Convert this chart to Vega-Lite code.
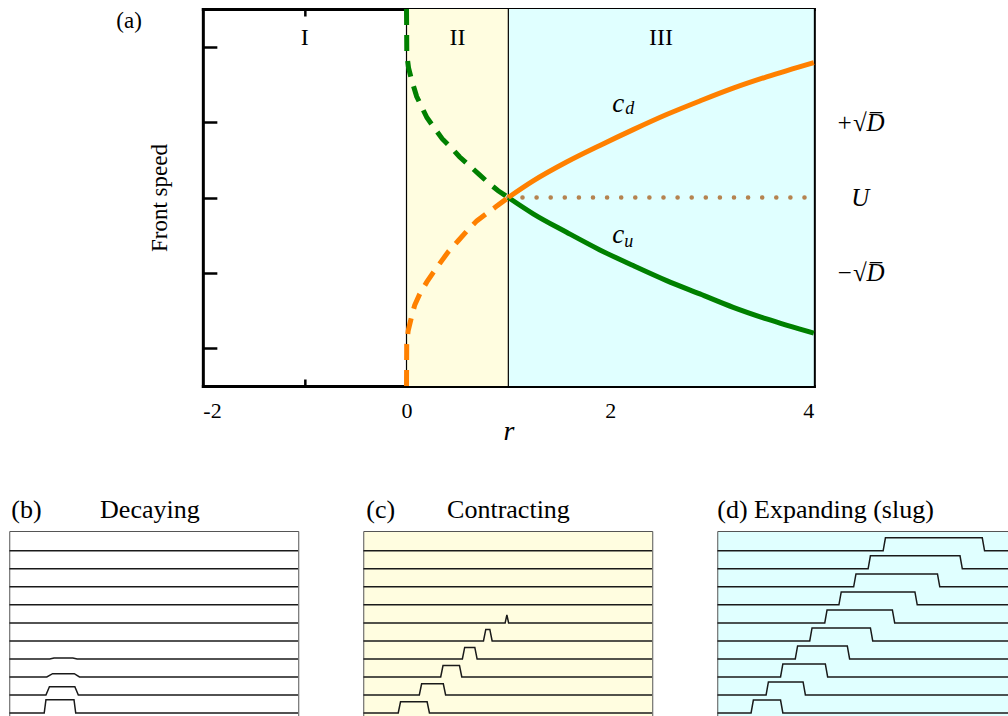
{
  "$schema": "https://vega.github.io/schema/vega-lite/v6.json",
  "background": "white",
  "padding": {"left": 8, "top": -1, "right": 0, "bottom": 0},
  "config": {
    "font": "Liberation Serif",
    "view": {"stroke": null},
    "axis": {"domainColor": "black", "domainWidth": 3, "domainCap": "square", "tickColor": "black", "tickWidth": 2.5, "labelFont": "Liberation Serif", "labelColor": "black", "titleFont": "Liberation Serif", "titleFontWeight": "normal", "titleColor": "black", "grid": false, "zindex": 1},
    "text": {"font": "Liberation Serif", "color": "black"},
    "title": {"font": "Liberation Serif", "fontWeight": "normal", "fontSize": 26, "color": "black", "anchor": "start", "frame": "group", "offset": 8}
  },
  "datasets": {
    "regions": [{"reg": "II", "r0": 0, "r1": 1}, {"reg": "III", "r0": 1, "r1": 4}],
    "bounds": [{"r": 0}, {"r": 1}],
    "uline": [{"r": 1, "v": 0}, {"r": 4, "v": 0}],
    "curves": [
      {"curve": "cu", "seg": "II", "r": 0, "v": 2.5},
      {"curve": "cu", "seg": "II", "r": 0.003, "v": 1.9},
      {"curve": "cu", "seg": "II", "r": 0.02, "v": 1.72},
      {"curve": "cu", "seg": "II", "r": 0.05, "v": 1.56},
      {"curve": "cu", "seg": "II", "r": 0.1, "v": 1.34},
      {"curve": "cu", "seg": "II", "r": 0.15, "v": 1.2},
      {"curve": "cu", "seg": "II", "r": 0.2, "v": 1.06},
      {"curve": "cu", "seg": "II", "r": 0.28, "v": 0.91},
      {"curve": "cu", "seg": "II", "r": 0.35, "v": 0.78},
      {"curve": "cu", "seg": "II", "r": 0.44, "v": 0.66},
      {"curve": "cu", "seg": "II", "r": 0.52, "v": 0.54},
      {"curve": "cu", "seg": "II", "r": 0.62, "v": 0.42},
      {"curve": "cu", "seg": "II", "r": 0.71, "v": 0.31},
      {"curve": "cu", "seg": "II", "r": 0.8, "v": 0.2},
      {"curve": "cu", "seg": "II", "r": 0.9, "v": 0.09},
      {"curve": "cu", "seg": "II", "r": 1.0, "v": 0},
      {"curve": "cd", "seg": "II", "r": 0, "v": -2.5},
      {"curve": "cd", "seg": "II", "r": 0.002, "v": -1.95},
      {"curve": "cd", "seg": "II", "r": 0.016, "v": -1.77},
      {"curve": "cd", "seg": "II", "r": 0.05, "v": -1.58},
      {"curve": "cd", "seg": "II", "r": 0.08, "v": -1.43},
      {"curve": "cd", "seg": "II", "r": 0.13, "v": -1.28},
      {"curve": "cd", "seg": "II", "r": 0.2, "v": -1.12},
      {"curve": "cd", "seg": "II", "r": 0.26, "v": -1.0},
      {"curve": "cd", "seg": "II", "r": 0.34, "v": -0.85},
      {"curve": "cd", "seg": "II", "r": 0.41, "v": -0.72},
      {"curve": "cd", "seg": "II", "r": 0.51, "v": -0.57},
      {"curve": "cd", "seg": "II", "r": 0.59, "v": -0.45},
      {"curve": "cd", "seg": "II", "r": 0.69, "v": -0.31},
      {"curve": "cd", "seg": "II", "r": 0.8, "v": -0.2},
      {"curve": "cd", "seg": "II", "r": 0.88, "v": -0.12},
      {"curve": "cd", "seg": "II", "r": 1.0, "v": 0},
      {"curve": "cu", "seg": "III", "r": 1.0, "v": 0},
      {"curve": "cu", "seg": "III", "r": 1.244, "v": -0.216},
      {"curve": "cu", "seg": "III", "r": 1.572, "v": -0.461},
      {"curve": "cu", "seg": "III", "r": 1.899, "v": -0.695},
      {"curve": "cu", "seg": "III", "r": 2.226, "v": -0.903},
      {"curve": "cu", "seg": "III", "r": 2.554, "v": -1.102},
      {"curve": "cu", "seg": "III", "r": 2.881, "v": -1.279},
      {"curve": "cu", "seg": "III", "r": 3.208, "v": -1.457},
      {"curve": "cu", "seg": "III", "r": 3.536, "v": -1.611},
      {"curve": "cu", "seg": "III", "r": 4.0, "v": -1.8},
      {"curve": "cd", "seg": "III", "r": 1.0, "v": 0},
      {"curve": "cd", "seg": "III", "r": 1.244, "v": 0.22},
      {"curve": "cd", "seg": "III", "r": 1.572, "v": 0.47},
      {"curve": "cd", "seg": "III", "r": 1.899, "v": 0.69},
      {"curve": "cd", "seg": "III", "r": 2.226, "v": 0.9},
      {"curve": "cd", "seg": "III", "r": 2.554, "v": 1.1},
      {"curve": "cd", "seg": "III", "r": 2.881, "v": 1.28},
      {"curve": "cd", "seg": "III", "r": 3.208, "v": 1.45},
      {"curve": "cd", "seg": "III", "r": 3.536, "v": 1.6},
      {"curve": "cd", "seg": "III", "r": 4.0, "v": 1.79}
    ],
    "regionLabels": [{"t": "I", "r": -1, "v": 2.12}, {"t": "II", "r": 0.5, "v": 2.12}, {"t": "III", "r": 2.5, "v": 2.12}],
    "cLabels": [{"t": "c", "r": 2.02, "v": 1.14}, {"t": "c", "r": 2.02, "v": -0.6}],
    "subLabels": [{"t": "d", "r": 2.148, "v": 1.11}, {"t": "u", "r": 2.138, "v": -0.654}],
    "panelTag": [{"t": "(a)", "r": -2.85, "v": 2.345}],
    "traces": [
      {"p": "b", "k": 0, "x": 0, "y": 0}, {"p": "b", "k": 0, "x": 0.121, "y": 0}, {"p": "b", "k": 0, "x": 0.127, "y": 0.74}, {"p": "b", "k": 0, "x": 0.224, "y": 0.74}, {"p": "b", "k": 0, "x": 0.23, "y": 0}, {"p": "b", "k": 0, "x": 1, "y": 0},
      {"p": "b", "k": 1, "x": 0, "y": 1}, {"p": "b", "k": 1, "x": 0.127, "y": 1}, {"p": "b", "k": 1, "x": 0.139, "y": 1.46}, {"p": "b", "k": 1, "x": 0.227, "y": 1.46}, {"p": "b", "k": 1, "x": 0.239, "y": 1}, {"p": "b", "k": 1, "x": 1, "y": 1},
      {"p": "b", "k": 2, "x": 0, "y": 2}, {"p": "b", "k": 2, "x": 0.13, "y": 2}, {"p": "b", "k": 2, "x": 0.15, "y": 2.18}, {"p": "b", "k": 2, "x": 0.225, "y": 2.18}, {"p": "b", "k": 2, "x": 0.243, "y": 2}, {"p": "b", "k": 2, "x": 1, "y": 2},
      {"p": "b", "k": 3, "x": 0, "y": 3}, {"p": "b", "k": 3, "x": 0.14, "y": 3}, {"p": "b", "k": 3, "x": 0.155, "y": 3.05}, {"p": "b", "k": 3, "x": 0.22, "y": 3.05}, {"p": "b", "k": 3, "x": 0.235, "y": 3}, {"p": "b", "k": 3, "x": 1, "y": 3},
      {"p": "b", "k": 4, "x": 0, "y": 4}, {"p": "b", "k": 4, "x": 1, "y": 4},
      {"p": "b", "k": 5, "x": 0, "y": 5}, {"p": "b", "k": 5, "x": 1, "y": 5},
      {"p": "b", "k": 6, "x": 0, "y": 6}, {"p": "b", "k": 6, "x": 1, "y": 6},
      {"p": "b", "k": 7, "x": 0, "y": 7}, {"p": "b", "k": 7, "x": 1, "y": 7},
      {"p": "b", "k": 8, "x": 0, "y": 8}, {"p": "b", "k": 8, "x": 1, "y": 8},
      {"p": "b", "k": 9, "x": 0, "y": 9}, {"p": "b", "k": 9, "x": 1, "y": 9},
      {"p": "c", "k": 0, "x": 0, "y": 0}, {"p": "c", "k": 0, "x": 0.121, "y": 0}, {"p": "c", "k": 0, "x": 0.129, "y": 0.62}, {"p": "c", "k": 0, "x": 0.221, "y": 0.62}, {"p": "c", "k": 0, "x": 0.229, "y": 0}, {"p": "c", "k": 0, "x": 1, "y": 0},
      {"p": "c", "k": 1, "x": 0, "y": 1}, {"p": "c", "k": 1, "x": 0.194, "y": 1}, {"p": "c", "k": 1, "x": 0.202, "y": 1.62}, {"p": "c", "k": 1, "x": 0.277, "y": 1.62}, {"p": "c", "k": 1, "x": 0.285, "y": 1}, {"p": "c", "k": 1, "x": 1, "y": 1},
      {"p": "c", "k": 2, "x": 0, "y": 2}, {"p": "c", "k": 2, "x": 0.268, "y": 2}, {"p": "c", "k": 2, "x": 0.276, "y": 2.63}, {"p": "c", "k": 2, "x": 0.333, "y": 2.63}, {"p": "c", "k": 2, "x": 0.341, "y": 2}, {"p": "c", "k": 2, "x": 1, "y": 2},
      {"p": "c", "k": 3, "x": 0, "y": 3}, {"p": "c", "k": 3, "x": 0.343, "y": 3}, {"p": "c", "k": 3, "x": 0.351, "y": 3.64}, {"p": "c", "k": 3, "x": 0.386, "y": 3.64}, {"p": "c", "k": 3, "x": 0.394, "y": 3}, {"p": "c", "k": 3, "x": 1, "y": 3},
      {"p": "c", "k": 4, "x": 0, "y": 4}, {"p": "c", "k": 4, "x": 0.416, "y": 4}, {"p": "c", "k": 4, "x": 0.424, "y": 4.64}, {"p": "c", "k": 4, "x": 0.438, "y": 4.64}, {"p": "c", "k": 4, "x": 0.446, "y": 4}, {"p": "c", "k": 4, "x": 1, "y": 4},
      {"p": "c", "k": 5, "x": 0, "y": 5}, {"p": "c", "k": 5, "x": 0.491, "y": 5}, {"p": "c", "k": 5, "x": 0.497, "y": 5.44}, {"p": "c", "k": 5, "x": 0.503, "y": 5}, {"p": "c", "k": 5, "x": 1, "y": 5},
      {"p": "c", "k": 6, "x": 0, "y": 6}, {"p": "c", "k": 6, "x": 1, "y": 6},
      {"p": "c", "k": 7, "x": 0, "y": 7}, {"p": "c", "k": 7, "x": 1, "y": 7},
      {"p": "c", "k": 8, "x": 0, "y": 8}, {"p": "c", "k": 8, "x": 1, "y": 8},
      {"p": "c", "k": 9, "x": 0, "y": 9}, {"p": "c", "k": 9, "x": 1, "y": 9},
      {"p": "d", "k": 0, "x": 0, "y": 0}, {"p": "d", "k": 0, "x": 0.117, "y": 0}, {"p": "d", "k": 0, "x": 0.125, "y": 0.72}, {"p": "d", "k": 0, "x": 0.219, "y": 0.72}, {"p": "d", "k": 0, "x": 0.227, "y": 0}, {"p": "d", "k": 0, "x": 1.3, "y": 0},
      {"p": "d", "k": 1, "x": 0, "y": 1}, {"p": "d", "k": 1, "x": 0.169, "y": 1}, {"p": "d", "k": 1, "x": 0.177, "y": 1.72}, {"p": "d", "k": 1, "x": 0.297, "y": 1.72}, {"p": "d", "k": 1, "x": 0.305, "y": 1}, {"p": "d", "k": 1, "x": 1.3, "y": 1},
      {"p": "d", "k": 2, "x": 0, "y": 2}, {"p": "d", "k": 2, "x": 0.219, "y": 2}, {"p": "d", "k": 2, "x": 0.227, "y": 2.72}, {"p": "d", "k": 2, "x": 0.374, "y": 2.72}, {"p": "d", "k": 2, "x": 0.382, "y": 2}, {"p": "d", "k": 2, "x": 1.3, "y": 2},
      {"p": "d", "k": 3, "x": 0, "y": 3}, {"p": "d", "k": 3, "x": 0.27, "y": 3}, {"p": "d", "k": 3, "x": 0.278, "y": 3.72}, {"p": "d", "k": 3, "x": 0.45, "y": 3.72}, {"p": "d", "k": 3, "x": 0.458, "y": 3}, {"p": "d", "k": 3, "x": 1.3, "y": 3},
      {"p": "d", "k": 4, "x": 0, "y": 4}, {"p": "d", "k": 4, "x": 0.32, "y": 4}, {"p": "d", "k": 4, "x": 0.328, "y": 4.72}, {"p": "d", "k": 4, "x": 0.53, "y": 4.72}, {"p": "d", "k": 4, "x": 0.538, "y": 4}, {"p": "d", "k": 4, "x": 1.3, "y": 4},
      {"p": "d", "k": 5, "x": 0, "y": 5}, {"p": "d", "k": 5, "x": 0.372, "y": 5}, {"p": "d", "k": 5, "x": 0.38, "y": 5.72}, {"p": "d", "k": 5, "x": 0.606, "y": 5.72}, {"p": "d", "k": 5, "x": 0.614, "y": 5}, {"p": "d", "k": 5, "x": 1.3, "y": 5},
      {"p": "d", "k": 6, "x": 0, "y": 6}, {"p": "d", "k": 6, "x": 0.421, "y": 6}, {"p": "d", "k": 6, "x": 0.429, "y": 6.72}, {"p": "d", "k": 6, "x": 0.684, "y": 6.72}, {"p": "d", "k": 6, "x": 0.692, "y": 6}, {"p": "d", "k": 6, "x": 1.3, "y": 6},
      {"p": "d", "k": 7, "x": 0, "y": 7}, {"p": "d", "k": 7, "x": 0.472, "y": 7}, {"p": "d", "k": 7, "x": 0.48, "y": 7.72}, {"p": "d", "k": 7, "x": 0.762, "y": 7.72}, {"p": "d", "k": 7, "x": 0.77, "y": 7}, {"p": "d", "k": 7, "x": 1.3, "y": 7},
      {"p": "d", "k": 8, "x": 0, "y": 8}, {"p": "d", "k": 8, "x": 0.522, "y": 8}, {"p": "d", "k": 8, "x": 0.53, "y": 8.72}, {"p": "d", "k": 8, "x": 0.84, "y": 8.72}, {"p": "d", "k": 8, "x": 0.848, "y": 8}, {"p": "d", "k": 8, "x": 1.3, "y": 8},
      {"p": "d", "k": 9, "x": 0, "y": 9}, {"p": "d", "k": 9, "x": 0.574, "y": 9}, {"p": "d", "k": 9, "x": 0.582, "y": 9.72}, {"p": "d", "k": 9, "x": 0.917, "y": 9.72}, {"p": "d", "k": 9, "x": 0.925, "y": 9}, {"p": "d", "k": 9, "x": 1.3, "y": 9}
    ]
  },
  "spacing": 51,
  "center": true,
  "vconcat": [
    {
      "width": 611,
      "height": 377,
      "resolve": {"axis": {"x": "independent", "y": "independent"}},
      "layer": [
        {
          "data": {"name": "regions"},
          "mark": {"type": "rect"},
          "encoding": {
            "x": {"field": "r0", "type": "quantitative", "scale": {"domain": [-2, 4], "nice": false, "zero": false}, "axis": null},
            "x2": {"field": "r1"},
            "fill": {"field": "reg", "type": "nominal", "scale": {"domain": ["II", "III"], "range": ["#fffde0", "#e0ffff"]}, "legend": null}
          }
        },
        {
          "data": {"name": "bounds"},
          "mark": {"type": "rule", "color": "black", "strokeWidth": 1.2},
          "encoding": {"x": {"field": "r", "type": "quantitative", "axis": null}}
        },
        {
          "data": {"name": "uline"},
          "mark": {"type": "line", "color": "#b5834f", "strokeWidth": 4.5, "strokeDash": [0.1, 14], "strokeCap": "round"},
          "encoding": {
            "x": {"field": "r", "type": "quantitative", "scale": {"domain": [-2, 4], "nice": false, "zero": false},
              "axis": {"orient": "bottom", "values": [-2, -1, 0, 1, 2, 3, 4], "labelExpr": "datum.value === -2 ? '-2' : (datum.value % 2 === 0 ? datum.label : '')", "tickSize": -7, "tickOpacity": {"condition": {"test": "datum.value % 2 === 0", "value": 0}, "value": 1}, "labelPadding": 21, "labelFontSize": 22, "title": "r", "titleFontStyle": "italic", "titleFontSize": 28, "titlePadding": -4}},
            "y": {"field": "v", "type": "quantitative", "scale": {"domain": [-2.5, 2.5], "nice": false, "zero": false},
              "axis": {"orient": "left", "values": [-2, -1, 0, 1, 2], "labels": false, "tickSize": -14, "title": "Front speed", "titleFontSize": 23, "titlePadding": 30}}
          }
        },
        {
          "data": {"name": "curves"},
          "transform": [{"filter": "datum.seg === 'II'"}],
          "mark": {"type": "line", "strokeWidth": 5, "strokeDash": [16, 10]},
          "encoding": {
            "x": {"field": "r", "type": "quantitative", "axis": null},
            "y": {"field": "v", "type": "quantitative", "axis": null},
            "stroke": {"field": "curve", "type": "nominal", "scale": {"domain": ["cu", "cd"], "range": ["#008000", "#ff8000"]}, "legend": null}
          }
        },
        {
          "data": {"name": "curves"},
          "transform": [{"filter": "datum.seg === 'III'"}],
          "mark": {"type": "line", "strokeWidth": 5, "interpolate": "monotone"},
          "encoding": {
            "x": {"field": "r", "type": "quantitative", "axis": null},
            "y": {"field": "v", "type": "quantitative", "axis": null},
            "stroke": {"field": "curve", "type": "nominal", "legend": null}
          }
        },
        {
          "data": {"name": "regionLabels"},
          "mark": {"type": "text", "fontSize": 24, "baseline": "middle", "align": "center"},
          "encoding": {
            "x": {"field": "r", "type": "quantitative",
              "axis": {"orient": "top", "values": [-1, 1, 3], "labels": false, "tickSize": -7, "title": null}},
            "y": {"field": "v", "type": "quantitative",
              "axis": {"orient": "right", "values": [-2, -1, 0, 1, 2], "tickSize": -14, "title": null, "labelExpr": "datum.value === 1 ? '+\u221aD\u0305' : (datum.value === 0 ? 'U' : (datum.value === -1 ? '\u2212\u221aD\u0305' : ''))", "labelAlign": "center", "labelBaseline": "middle", "labelPadding": 60, "labelFontSize": 25, "labelFontStyle": "italic"}},
            "text": {"field": "t"}
          }
        },
        {
          "data": {"name": "cLabels"},
          "mark": {"type": "text", "fontSize": 27, "fontStyle": "italic", "align": "left", "baseline": "alphabetic"},
          "encoding": {
            "x": {"field": "r", "type": "quantitative", "axis": null},
            "y": {"field": "v", "type": "quantitative", "axis": null},
            "text": {"field": "t"}
          }
        },
        {
          "data": {"name": "subLabels"},
          "mark": {"type": "text", "fontSize": 18, "fontStyle": "italic", "align": "left", "baseline": "alphabetic"},
          "encoding": {
            "x": {"field": "r", "type": "quantitative", "axis": null},
            "y": {"field": "v", "type": "quantitative", "axis": null},
            "text": {"field": "t"}
          }
        },
        {
          "data": {"name": "panelTag"},
          "mark": {"type": "text", "fontSize": 23, "align": "left", "baseline": "middle"},
          "encoding": {
            "x": {"field": "r", "type": "quantitative", "axis": null},
            "y": {"field": "v", "type": "quantitative", "axis": null},
            "text": {"field": "t"}
          }
        }
      ]
    },
    {
      "spacing": 63,
      "hconcat": [
        {
          "width": 289, "height": 200,
          "view": {"fill": "white", "stroke": "#555555", "strokeWidth": 1},
          "title": {"text": "(b)\u00a0\u00a0\u00a0\u00a0\u00a0\u00a0\u00a0\u00a0\u00a0Decaying", "dx": 2},
          "data": {"name": "traces"},
          "transform": [{"filter": "datum.p === 'b'"}],
          "mark": {"type": "line", "color": "#1a1a1a", "strokeWidth": 1.5, "clip": true},
          "encoding": {
            "x": {"field": "x", "type": "quantitative", "scale": {"domain": [0, 1], "nice": false, "zero": false}, "axis": null},
            "y": {"field": "y", "type": "quantitative", "scale": {"domain": [-1, 10.1], "nice": false, "zero": false}, "axis": null},
            "detail": {"field": "k", "type": "nominal"}
          }
        },
        {
          "width": 289, "height": 200,
          "view": {"fill": "#fffde0", "stroke": "#555555", "strokeWidth": 1},
          "title": {"text": "(c)\u00a0\u00a0\u00a0\u00a0\u00a0\u00a0\u00a0\u00a0Contracting", "dx": 3},
          "data": {"name": "traces"},
          "transform": [{"filter": "datum.p === 'c'"}],
          "mark": {"type": "line", "color": "#1a1a1a", "strokeWidth": 1.5, "clip": true},
          "encoding": {
            "x": {"field": "x", "type": "quantitative", "scale": {"domain": [0, 1], "nice": false, "zero": false}, "axis": null},
            "y": {"field": "y", "type": "quantitative", "scale": {"domain": [-1, 10.1], "nice": false, "zero": false}, "axis": null},
            "detail": {"field": "k", "type": "nominal"}
          }
        },
        {
          "width": 360, "height": 200,
          "view": {"fill": "#e0ffff", "stroke": "#555555", "strokeWidth": 1},
          "title": {"text": "(d)\u00a0Expanding (slug)", "dx": 0},
          "data": {"name": "traces"},
          "transform": [{"filter": "datum.p === 'd'"}],
          "mark": {"type": "line", "color": "#1a1a1a", "strokeWidth": 1.5, "clip": true},
          "encoding": {
            "x": {"field": "x", "type": "quantitative", "scale": {"domain": [0, 1.2457], "nice": false, "zero": false}, "axis": null},
            "y": {"field": "y", "type": "quantitative", "scale": {"domain": [-1, 10.1], "nice": false, "zero": false}, "axis": null},
            "detail": {"field": "k", "type": "nominal"}
          }
        }
      ]
    }
  ]
}
